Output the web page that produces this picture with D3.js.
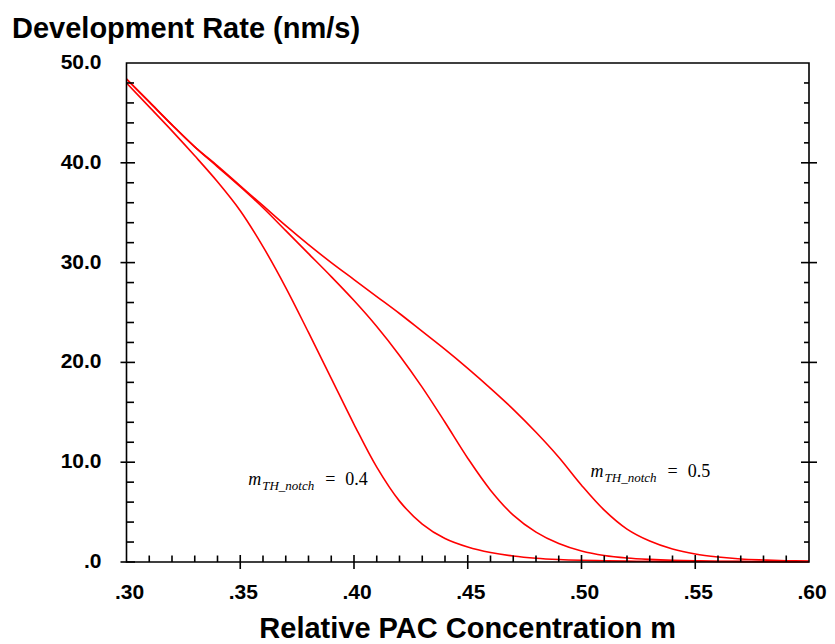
<!DOCTYPE html>
<html>
<head>
<meta charset="utf-8">
<script src="https://cdn.jsdelivr.net/npm/d3@7"></script>
<style>
  body { margin: 0; background: #fff; }
  svg { display: block; }
  .tick-label { font-family: "Liberation Sans", Arial, sans-serif; font-weight: bold; font-size: 21px; fill: #000; }
  .title { font-family: "Liberation Sans", Arial, sans-serif; font-weight: bold; font-size: 29px; fill: #000; }
  .note { font-family: "Liberation Serif", "Times New Roman", serif; font-size: 18px; fill: #000; }
</style>
</head>
<body>
<svg id="chart" width="835" height="644"></svg>
<script>
// relative PAC concentration m
const conc = [0.30, 0.31, 0.32, 0.33, 0.34, 0.35, 0.36, 0.37, 0.38, 0.39,
              0.40, 0.41, 0.42, 0.43, 0.44, 0.45, 0.46, 0.47, 0.48, 0.49,
              0.50, 0.51, 0.52, 0.53, 0.54, 0.55, 0.56, 0.57, 0.58, 0.59, 0.60];

// development rate (nm/s), one array per m_TH_notch
const rateNotch040 = [48.0, 45.6, 43.2, 40.7, 38.1, 35.2, 31.6, 27.5, 23.0, 18.4,
                      13.8, 9.5, 6.1, 3.8, 2.35, 1.5, 0.95, 0.6, 0.38, 0.25,
                      0.17, 0.12, 0.09, 0.07, 0.06, 0.05, 0.04, 0.035, 0.03, 0.025, 0.02];
const rateNotch045 = [48.4, 46.1, 43.8, 41.6, 39.6, 37.6, 35.5, 33.2, 30.9, 28.6,
                      26.2, 23.6, 20.7, 17.5, 14.0, 10.4, 7.2, 4.7, 3.0, 1.85,
                      1.1, 0.65, 0.4, 0.26, 0.17, 0.12, 0.08, 0.06, 0.05, 0.04, 0.03];
const rateNotch050 = [48.4, 46.1, 43.8, 41.6, 39.7, 37.7, 35.7, 33.7, 31.8, 30.0,
                      28.3, 26.6, 24.9, 23.1, 21.3, 19.4, 17.4, 15.3, 13.0, 10.5,
                      7.7, 5.2, 3.3, 2.1, 1.3, 0.8, 0.5, 0.3, 0.2, 0.13, 0.09];

const xTicks = [0.30, 0.35, 0.40, 0.45, 0.50, 0.55, 0.60];
const xTickLabels = [".30", ".35", ".40", ".45", ".50", ".55", ".60"];
const yTicks = [0, 10, 20, 30, 40, 50];
const yTickLabels = [".0", "10.0", "20.0", "30.0", "40.0", "50.0"];
const xMinor = [0.31, 0.32, 0.33, 0.34, 0.36, 0.37, 0.38, 0.39, 0.41, 0.42, 0.43, 0.44,
                0.46, 0.47, 0.48, 0.49, 0.51, 0.52, 0.53, 0.54, 0.56, 0.57, 0.58, 0.59];
const yMinor = [2, 4, 6, 8, 12, 14, 16, 18, 22, 24, 26, 28, 32, 34, 36, 38, 42, 44, 46, 48];

const notes = [
  { m: 0.3535, v: 7.7, value: "0.4" },
  { m: 0.504, v: 8.55, value: "0.5" }
];

const margin = { top: 63, right: 26, bottom: 82, left: 126.5 };
const width = 835, height = 644;

const svg = d3.select("#chart");

const x = d3.scaleLinear().domain([0.30, 0.60]).range([margin.left, width - margin.right]);
const y = d3.scaleLinear().domain([0, 50]).range([height - margin.bottom, margin.top]);

const x0 = x.range()[0], x1 = x.range()[1];
const y0 = y.range()[0], y1 = y.range()[1];

// curves
const line = d3.line()
  .x((d) => x(d[0]))
  .y((d) => y(d[1]))
  .curve(d3.curveCatmullRom.alpha(0.5));

[rateNotch040, rateNotch045, rateNotch050].forEach((series) => {
  svg.append("path")
    .datum(conc.map((m, i) => [m, series[i]]))
    .attr("fill", "none")
    .attr("stroke", "#ff0000")
    .attr("stroke-width", 1.6)
    .attr("d", line);
});

// frame
const frame = svg.append("g").attr("stroke", "#000").attr("stroke-width", 1.6).attr("fill", "none");
frame.append("path").attr("d", `M${x0},${y1}H${x1}V${y0}H${x0}Z`);

// left axis ticks
frame.selectAll(".yl-minor").data(yMinor).join("line")
  .attr("x1", x0).attr("x2", x0 + 7.5)
  .attr("y1", (d) => y(d)).attr("y2", (d) => y(d));
frame.selectAll(".yl-major").data(yTicks.slice(0, 5)).join("line")
  .attr("x1", x0 - 6).attr("x2", x0 + 8.5)
  .attr("y1", (d) => y(d)).attr("y2", (d) => y(d));

// right axis ticks
frame.selectAll(".yr-minor").data(yMinor).join("line")
  .attr("x1", x1 - 5).attr("x2", x1)
  .attr("y1", (d) => y(d)).attr("y2", (d) => y(d));
frame.selectAll(".yr-major").data(yTicks.slice(1, 5)).join("line")
  .attr("x1", x1 - 8).attr("x2", x1 + 8)
  .attr("y1", (d) => y(d)).attr("y2", (d) => y(d));

// bottom axis ticks
frame.selectAll(".x-minor").data(xMinor).join("line")
  .attr("x1", (d) => x(d)).attr("x2", (d) => x(d))
  .attr("y1", y0 - 6.5).attr("y2", y0);
frame.selectAll(".x-major").data(xTicks.slice(1, 6)).join("line")
  .attr("x1", (d) => x(d)).attr("x2", (d) => x(d))
  .attr("y1", y0 - 7).attr("y2", y0 + 7);

// tick labels
svg.selectAll(".ytl").data(yTicks).join("text")
  .attr("class", "tick-label")
  .attr("text-anchor", "end")
  .attr("x", x0 - 25)
  .attr("y", (d) => y(d) + 6)
  .text((d, i) => yTickLabels[i]);

svg.selectAll(".xtl").data(xTicks).join("text")
  .attr("class", "tick-label")
  .attr("text-anchor", "middle")
  .attr("x", (d) => x(d) + 3)
  .attr("y", y0 + 37)
  .text((d, i) => xTickLabels[i]);

// titles
svg.append("text").attr("class", "title")
  .attr("x", 12).attr("y", 37.5)
  .text("Development Rate (nm/s)");

svg.append("text").attr("class", "title")
  .attr("text-anchor", "middle")
  .attr("x", (x0 + x1) / 2).attr("y", 638)
  .text("Relative PAC Concentration m");

// annotations
notes.forEach((n) => {
  const t = svg.append("text").attr("class", "note")
    .attr("x", x(n.m)).attr("y", y(n.v));
  t.append("tspan").attr("font-style", "italic").text("m");
  t.append("tspan").attr("font-style", "italic").attr("font-size", "13px")
    .attr("dx", 1).attr("dy", 5).text("TH_notch");
  t.append("tspan").attr("dx", 11).attr("dy", -5).text("=");
  t.append("tspan").attr("dx", 10).text(n.value);
});
</script>
</body>
</html>
